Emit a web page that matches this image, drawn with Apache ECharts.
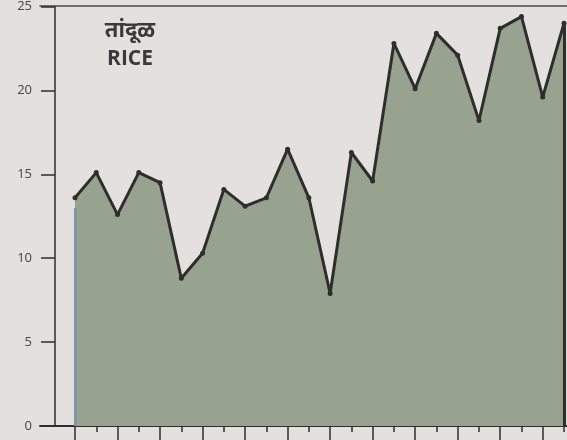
<!DOCTYPE html>
<html>
<head>
<meta charset="utf-8">
<script src="https://cdn.jsdelivr.net/npm/echarts@6/dist/echarts.min.js"></script>
<style>
  html, body { margin: 0; padding: 0; background: #e4e0de; }
  #rice { width: 567px; height: 440px; }
</style>
</head>
<body>
<div id="rice"></div>
<script>
// 24 points, x labels are cut off in the source
const categories = ['1', '2', '3', '4', '5', '6', '7', '8', '9', '10', '11', '12',
  '13', '14', '15', '16', '17', '18', '19', '20', '21', '22', '23', '24'];
const riceValues = [13.6, 15.1, 12.6, 15.1, 14.5, 8.8, 10.3, 14.1, 13.1, 13.6, 16.5, 13.6,
  7.9, 16.3, 14.6, 22.8, 20.1, 23.4, 22.1, 18.2, 23.7, 24.4, 19.6, 24.0];
const yTicks = [0, 5, 10, 15, 20, 25];

const ink = '#2e2e2e';

var myChart = echarts.init(document.getElementById('rice'));

const option = {
    backgroundColor: '#e4e0de',
    animation: false,
    title: {
        text: 'तांदूळ',
        subtext: 'RICE',
        left: 125,
        top: 15,
        textAlign: 'center',
        itemGap: 7,
        textStyle: { fontSize: 22, fontWeight: 'bold', color: '#3a3a3a', fontFamily: 'Noto Sans, DejaVu Sans, sans-serif' },
        subtextStyle: { fontSize: 21, fontWeight: 'bold', color: '#3a3a3a', fontFamily: 'Open Sans, Noto Sans, sans-serif' }
    },
    grid: [
        { left: 75, right: 3, top: 6, bottom: 14 },
        // frame lines around the plot
        { left: 40, right: 0, top: 6, bottom: 14 }
    ],
    xAxis: [
        {
            type: 'category',
            gridIndex: 0,
            data: categories,
            boundaryGap: false,
            axisLine: { show: false },
            axisTick: { show: true, interval: 0, length: 6, lineStyle: { color: ink, width: 1.5 } },
            axisLabel: { show: false },
            splitLine: { show: false }
        },
        {
            type: 'category',
            gridIndex: 0,
            position: 'bottom',
            data: categories,
            boundaryGap: false,
            axisLine: { show: false },
            axisTick: { show: true, interval: 1, length: 16, lineStyle: { color: ink, width: 1.5 } },
            axisLabel: { show: false },
            splitLine: { show: false }
        },
        {
            type: 'value',
            gridIndex: 1,
            position: 'bottom',
            axisLine: { show: true, lineStyle: { color: ink, width: 2 } },
            axisTick: { show: false },
            axisLabel: { show: false },
            splitLine: { show: false }
        },
        {
            type: 'value',
            gridIndex: 1,
            position: 'top',
            axisLine: { show: true, lineStyle: { color: '#4a4a4a', width: 1.5 } },
            axisTick: { show: false },
            axisLabel: { show: false },
            splitLine: { show: false }
        }
    ],
    yAxis: [
        {
            type: 'value',
            gridIndex: 0,
            min: yTicks[0],
            max: yTicks[yTicks.length - 1],
            interval: 5,
            offset: 20,
            axisLine: { show: true, lineStyle: { color: ink, width: 1.5 } },
            axisTick: { show: true, length: 14, lineStyle: { color: ink, width: 1.5 } },
            axisLabel: { margin: 23, color: '#454545', fontSize: 13, fontFamily: 'Open Sans, sans-serif' },
            splitLine: { show: false }
        },
        {
            type: 'value',
            gridIndex: 1,
            show: false
        }
    ],
    series: [
        {
            name: 'RICE',
            type: 'line',
            xAxisIndex: 0,
            yAxisIndex: 0,
            data: riceValues,
            symbol: 'circle',
            symbolSize: 5,
            itemStyle: { color: ink },
            lineStyle: { color: ink, width: 3 },
            areaStyle: { color: '#98a38f', opacity: 1 },
            markLine: {
                silent: true,
                symbol: 'none',
                label: { show: false },
                data: [
                    [{ coord: [0, 0], lineStyle: { color: '#7f95a8', width: 3, type: 'solid' } }, { coord: [0, 13] }],
                    [{ coord: [23, 0], lineStyle: { color: ink, width: 3, type: 'solid' } }, { coord: [23, 24] }]
                ]
            }
        }
    ]
};

myChart.setOption(option);
</script>
</body>
</html>
